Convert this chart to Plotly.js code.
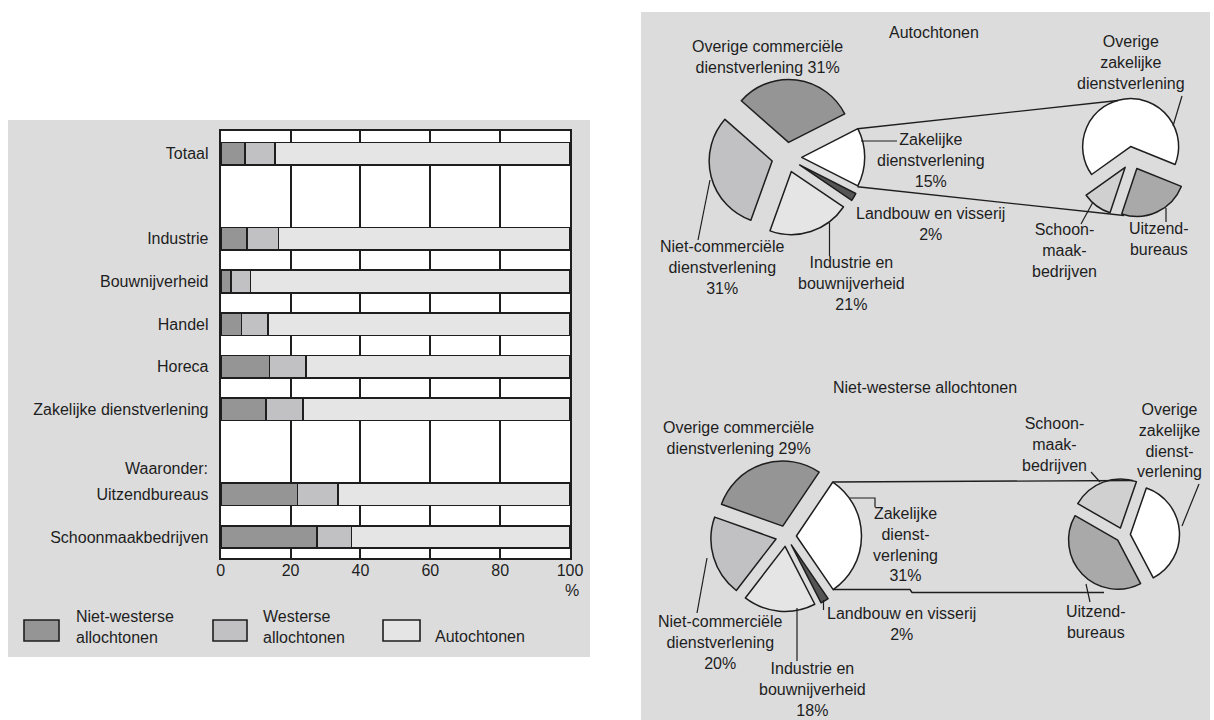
<!DOCTYPE html>
<html>
<head>
<meta charset="utf-8">
<script src="https://cdn.plot.ly/plotly-3.0.1.min.js"></script>
<style>html,body{margin:0;padding:0;background:#fff;}#chart{width:1214px;height:720px;}</style>
</head>
<body>
<div id="chart"></div>
<script>
// ---------- DATA ----------
const sectors = ['Totaal', 'Industrie', 'Bouwnijverheid', 'Handel', 'Horeca',
  'Zakelijke dienstverlening', 'Uitzendbureaus', 'Schoonmaakbedrijven'];
const nietWesterseShare = [7, 7.5, 3, 6, 14, 13, 22, 27.5];
const westerseShare     = [8.5, 9, 5.5, 7.5, 10.5, 10.5, 11.5, 10];
const autochtonenShare  = [84.5, 83.5, 91.5, 86.5, 75.5, 76.5, 66.5, 62.5];
const seriesNames = ['Niet-westerse allochtonen', 'Westerse allochtonen', 'Autochtonen'];
const xTicks = [0, 20, 40, 60, 80, 100];

const branches = ['Zakelijke dienstverlening', 'Landbouw en visserij', 'Industrie en bouwnijverheid',
  'Niet-commerciële dienstverlening', 'Overige commerciële dienstverlening'];
const autochtonenBranches    = [15, 2, 21, 31, 31];
const nietWesterseBranches   = [31, 2, 18, 20, 29];

const zakelijkeParts = ['Overige zakelijke dienstverlening', 'Uitzendbureaus', 'Schoonmaakbedrijven'];
const autochtonenZakelijk  = [66, 24, 10];
const nietWesterseZakelijk = [37, 41, 22];

// ---------- LAYOUT HELPERS (positions / styles) ----------
const W = 1214, H = 720;
const X = px => px / W;
const Y = py => 1 - py / H;
const FONT = 'Liberation Sans, Arial, Helvetica, sans-serif';
const INK = '#1e1e1e';
const PANEL = '#dcdcdd';
const C_DARK = '#959595', C_MID = '#c1c1c3', C_LIGHT = '#e5e5e6';

// bar rows (slot positions on the y axis)
const rowSlot = [0, 2, 3, 4, 5, 6, 8, 9];

function dom(cx, cy, side) {
  return {x: [X(cx - side / 2), X(cx + side / 2)], y: [Y(cy + side / 2), Y(cy - side / 2)]};
}

const barLine = {color: INK, width: 1.6};
const traces = [
  {type: 'bar', orientation: 'h', name: seriesNames[0], x: nietWesterseShare, y: rowSlot,
   width: 0.53, marker: {color: C_DARK, line: barLine}, showlegend: false, hoverinfo: 'x+name'},
  {type: 'bar', orientation: 'h', name: seriesNames[1], x: westerseShare, y: rowSlot,
   width: 0.53, marker: {color: C_MID, line: barLine}, showlegend: false, hoverinfo: 'x+name'},
  {type: 'bar', orientation: 'h', name: seriesNames[2], x: autochtonenShare, y: rowSlot,
   width: 0.53, marker: {color: C_LIGHT, line: barLine}, showlegend: false, hoverinfo: 'x+name'}
];

const mainColors = ['#ffffff', '#555555', C_LIGHT, C_MID, C_DARK];
const subColors = ['#ffffff', '#a9a9a9', '#d0d0d1'];
const pieLine = {color: INK, width: 1.5};

function pie(labels, values, colors, rotation, pull, domain) {
  return {type: 'pie', labels: labels, values: values, sort: false, direction: 'clockwise',
    rotation: rotation, pull: pull, domain: domain, textinfo: 'none', hoverinfo: 'label+percent',
    marker: {colors: colors, line: pieLine}, showlegend: false};
}
traces.push(pie(branches, autochtonenBranches, mainColors, 63, 0.238, dom(786.7, 157.3, 156)));
traces.push(pie(zakelijkeParts, autochtonenZakelijk, subColors, 234.4, 0.24, dom(1132, 158, 119)));
traces.push(pie(branches, nietWesterseBranches, mainColors, 34, 0.16, dom(786, 536, 151)));
traces.push(pie(zakelijkeParts, nietWesterseZakelijk, subColors, 19, 0.15, dom(1123, 535, 113)));

// ---------- SHAPES ----------
const shapes = [];
function rect(x0, y0, x1, y1, fill, line) {
  shapes.push({type: 'rect', xref: 'paper', yref: 'paper', layer: 'below',
    x0: X(x0), x1: X(x1), y0: Y(y1), y1: Y(y0), fillcolor: fill,
    line: line || {width: 0}});
}
function seg(pts, w) {
  let d = 'M ' + pts.map(p => X(p[0]) + ',' + Y(p[1])).join(' L ');
  shapes.push({type: 'path', xref: 'paper', yref: 'paper', path: d,
    line: {color: INK, width: w || 1.4}});
}
// panels
rect(8, 120, 590, 657, PANEL);
rect(641, 12, 1210, 720, PANEL);
// plot background of the bar chart (white, above panel)
shapes.push({type: 'rect', xref: 'x domain', yref: 'y domain', layer: 'below',
  x0: 0, x1: 1, y0: 0, y1: 1, fillcolor: '#ffffff', line: {width: 0}});
// legend boxes
rect(24, 620, 59, 641, C_DARK, {color: INK, width: 1.6});
rect(213, 620, 247, 641, C_MID, {color: INK, width: 1.6});
rect(383, 620, 420, 641, C_LIGHT, {color: INK, width: 1.6});

// connecting lines (Autochtonen)
seg([[857.5, 128.8], [1118, 100.5]]);
seg([[857.5, 186.8], [1124, 215.5]]);
// connecting lines (Niet-westerse)
seg([[832.8, 482], [1133, 480.5]]);
seg([[833, 589.5], [910, 589.5], [912, 592.5], [1104, 592.5]]);
// leader lines Autochtonen
seg([[1182, 96], [1173, 126]], 1.2);
seg([[861, 141], [897, 141]], 1.2);
seg([[710, 180], [698, 240]], 1.2);
seg([[829.5, 223], [829.5, 256]], 1.2);
seg([[1093, 202], [1081, 224]], 1.2);
seg([[1166, 208], [1166, 222]], 1.2);
// leader lines Niet-westerse
seg([[1091, 472], [1100, 482]], 1.2);
seg([[1199, 484], [1182, 526]], 1.2);
seg([[850, 498], [875, 498], [875, 507]], 1.2);
seg([[707, 558], [697, 613]], 1.2);
seg([[797, 608], [797, 661]], 1.2);
seg([[1086, 584], [1090, 602]], 1.2);
seg([[823.5, 600], [823.5, 610]], 1.2);

// ---------- ANNOTATIONS ----------
const ann = [];
function txt(text, x, y, anchor, size) {
  ann.push({text: text, xref: 'paper', yref: 'paper', x: X(x), y: Y(y), showarrow: false,
    xanchor: anchor || 'center', yanchor: 'middle', align: anchor === 'left' ? 'left' : 'center',
    font: {family: FONT, size: size || 16, color: INK}});
}
const pct = v => v + '%';
// bar chart extras
txt('%', 572, 590);
ann.push({text: 'Waaronder:', xref: 'paper', yref: 'y', x: X(210), y: 7.38, showarrow: false,
  xanchor: 'right', yanchor: 'middle', font: {family: FONT, size: 16, color: INK}});
// legend texts
txt('Niet-westerse<br>allochtonen', 74, 627, 'left');
txt('Westerse<br>allochtonen', 261, 627, 'left');
txt(seriesNames[2], 433, 636, 'left');

// Autochtonen pie labels
txt(seriesNames[2], 934, 33);
txt('Overige commerciële<br>dienstverlening ' + pct(autochtonenBranches[4]), 768, 57);
txt('Niet-commerciële<br>dienstverlening<br>' + pct(autochtonenBranches[3]), 722, 267);
txt('Industrie en<br>bouwnijverheid<br>' + pct(autochtonenBranches[2]), 851, 284);
txt('Landbouw en visserij<br>' + pct(autochtonenBranches[1]), 930, 224);
txt('Zakelijke<br>dienstverlening<br>' + pct(autochtonenBranches[0]), 931, 160);
txt('Overige<br>zakelijke<br>dienstverlening', 1131, 62);
txt('Schoon-<br>maak-<br>bedrijven', 1064, 250);
txt('Uitzend-<br>bureaus', 1159, 239);

// Niet-westerse pie labels
txt(seriesNames[0], 925, 387);
txt('Overige commerciële<br>dienstverlening ' + pct(nietWesterseBranches[4]), 738, 438);
txt('Niet-commerciële<br>dienstverlening<br>' + pct(nietWesterseBranches[3]), 720, 642);
txt('Industrie en<br>bouwnijverheid<br>' + pct(nietWesterseBranches[2]), 812, 689);
txt('Landbouw en visserij<br>' + pct(nietWesterseBranches[1]), 901, 624);
txt('Zakelijke<br>dienst-<br>verlening<br>' + pct(nietWesterseBranches[0]), 905, 544);
txt('Overige<br>zakelijke<br>dienst-<br>verlening', 1169, 440);
txt('Schoon-<br>maak-<br>bedrijven', 1054, 444);
txt('Uitzend-<br>bureaus', 1096, 622);

const layout = {
  width: W, height: H,
  margin: {l: 0, r: 0, t: 0, b: 0},
  paper_bgcolor: '#ffffff',
  plot_bgcolor: 'rgba(0,0,0,0)',
  barmode: 'stack',
  bargap: 0,
  font: {family: FONT, size: 16, color: INK},
  xaxis: {domain: [X(220.7), X(570)], range: [0, 100], tickvals: xTicks,
    showgrid: true, gridcolor: INK, gridwidth: 2, zeroline: false,
    showline: true, mirror: true, linecolor: INK, linewidth: 2,
    ticks: '', ticklabelstandoff: -4, tickfont: {family: FONT, size: 16, color: INK}, fixedrange: true},
  yaxis: {domain: [Y(558.3), Y(130.7)], range: [9.5, -0.54], tickvals: rowSlot, ticktext: sectors,
    showgrid: false, zeroline: false, showline: true, mirror: true, linecolor: INK, linewidth: 2,
    ticks: '', ticklabelstandoff: 7, tickfont: {family: FONT, size: 16, color: INK}, fixedrange: true},
  shapes: shapes,
  annotations: ann,
  showlegend: false
};

Plotly.newPlot('chart', traces, layout, {displayModeBar: false, staticPlot: true});
</script>
</body>
</html>
